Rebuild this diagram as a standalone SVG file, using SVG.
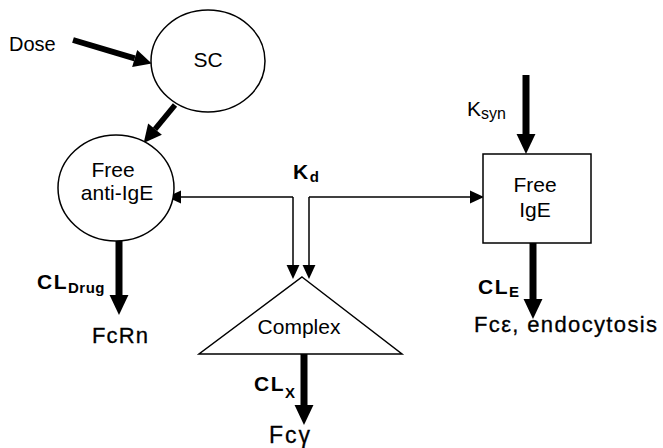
<svg xmlns="http://www.w3.org/2000/svg" width="663" height="448" viewBox="0 0 663 448">
<defs>
<style>
.node{fill:#fff;stroke:#000;stroke-width:1.5}
.lbl{font-family:"Liberation Sans",Arial,sans-serif;font-size:21px;fill:#000}
.bl{font-family:"Liberation Sans",Arial,sans-serif;font-weight:bold;font-size:21px;fill:#000;letter-spacing:1.5px}
.sub{font-size:15px;letter-spacing:0.5px}
.out{font-family:"Liberation Sans",Arial,sans-serif;font-size:22px;fill:#000;stroke:#000;stroke-width:0.3}
.thick{stroke:#000;stroke-width:7;fill:none}
.thin{stroke:#000;stroke-width:1.5;fill:none}
</style>
<marker id="hv" markerUnits="userSpaceOnUse" markerWidth="20" markerHeight="20" viewBox="0 -9 18 18" refX="0" refY="0" orient="auto">
<path d="M0,-8.5 L18,0 L0,8.5 z" fill="#000"/>
</marker>
<marker id="hd" markerUnits="userSpaceOnUse" markerWidth="20" markerHeight="20" viewBox="0 -9 16 18" refX="0" refY="0" orient="auto">
<path d="M0,-8 L16,0 L0,8 z" fill="#000"/>
</marker>
<marker id="th" markerUnits="userSpaceOnUse" markerWidth="14" markerHeight="14" viewBox="0 -6 12 12" refX="0" refY="0" orient="auto">
<path d="M0,-5.5 L12,0 L0,5.5 z" fill="#000"/>
</marker>
</defs>
<rect width="663" height="448" fill="#fff"/>

<g id="connectors">
<line x1="73" y1="40" x2="134.7" y2="58.4" stroke="#000" stroke-width="6" marker-end="url(#hd)"/>
<line x1="175" y1="105" x2="155" y2="129.2" stroke="#000" stroke-width="5.5" marker-end="url(#hd)"/>
<path class="thin" d="M293,197 H181" marker-end="url(#th)"/>
<path class="thin" d="M293,197 V265" marker-end="url(#th)"/>
<path class="thin" d="M309,197 H470" marker-end="url(#th)"/>
<path class="thin" d="M309,197 V265" marker-end="url(#th)"/>
<line class="thick" x1="526" y1="75" x2="526" y2="134" marker-end="url(#hv)"/>
<line class="thick" x1="533" y1="243" x2="533" y2="299" marker-end="url(#hv)"/>
<line class="thick" x1="304" y1="354" x2="304" y2="405" marker-end="url(#hv)"/>
<line class="thick" x1="119" y1="240" x2="119" y2="295" marker-end="url(#hv)"/>
</g>

<g id="dose">
<text class="lbl" x="9" y="51" style="font-size:20px">Dose</text>
</g>

<g id="sc">
<ellipse class="node" cx="208" cy="61" rx="57" ry="51"/>
<text class="lbl" x="208" y="67" text-anchor="middle">SC</text>
</g>

<g id="free-anti-ige">
<ellipse class="node" cx="116" cy="188" rx="58" ry="53"/>
<text class="lbl" x="113" y="177" text-anchor="middle">Free</text>
<text class="lbl" x="117" y="200" text-anchor="middle">anti-IgE</text>
</g>

<g id="free-ige">
<rect class="node" x="483" y="154" width="108" height="89"/>
<text class="lbl" x="535" y="192" text-anchor="middle">Free</text>
<text class="lbl" x="535" y="217" text-anchor="middle">IgE</text>
</g>

<g id="complex">
<path class="node" d="M302,277 L402,354 L199,354 Z"/>
<text class="lbl" x="299" y="334" text-anchor="middle">Complex</text>
</g>

<g id="labels">
<text class="bl" x="293" y="179">K<tspan class="sub" dy="3">d</tspan></text>
<text class="lbl" x="467" y="116">K<tspan style="font-size:16px" dy="3">syn</tspan></text>
<text class="bl" x="37" y="289">CL<tspan class="sub" dy="4">Drug</tspan></text>
<text class="bl" x="254" y="391">CL<tspan class="sub" dy="7">X</tspan></text>
<text class="bl" x="478" y="294">CL<tspan class="sub" dy="3">E</tspan></text>
<text class="out" x="92" y="343" textLength="56" lengthAdjust="spacing">FcRn</text>
<text class="out" x="269" y="443" style="font-size:23px" textLength="41" lengthAdjust="spacing">Fcγ</text>
<text class="out" x="474" y="332" textLength="183" lengthAdjust="spacing">Fcε, endocytosis</text>
</g>
</svg>
